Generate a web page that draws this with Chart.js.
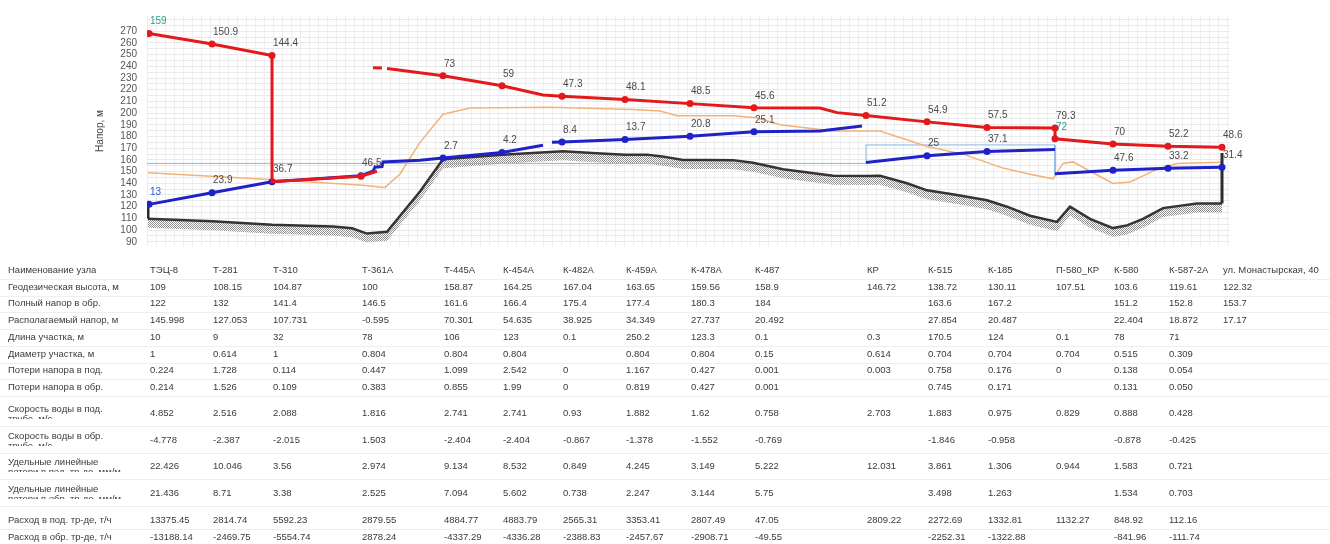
<!DOCTYPE html>
<html><head><meta charset="utf-8">
<script src="https://cdn.jsdelivr.net/npm/chart.js@4.4.1/dist/chart.umd.min.js"></script>
<style>
html,body{margin:0;padding:0;background:#fff;width:1330px;height:544px;overflow:hidden;font-family:"Liberation Sans",Arial,sans-serif;}
#wrap{position:relative;width:1330px;height:544px;overflow:hidden;}
#c{position:absolute;left:0;top:0;}
#tbl{position:absolute;left:0;top:0;width:1330px;height:544px;}
.row{position:absolute;left:0;width:1330px;border-bottom:1px solid #efefef;overflow:hidden;}
.cell{position:absolute;font-size:9.5px;color:#3a3a3a;white-space:pre;line-height:10px;overflow:hidden;}
</style></head>
<body><div id="wrap"><canvas id="c" width="1330" height="262" style="width:1330px;height:262px"></canvas><div id="tbl"></div></div>
<script>
// ---------- node positions along the profile and names ----------
const nodeNames = ['ТЭЦ-8','Т-281','Т-310','Т-361А','Т-445А','К-454А','К-482А','К-459А','К-478А','К-487','КР','К-515','К-185','П-580_КР','К-580','К-587-2А','ул. Монастырская, 40'];
const nodeX = [2,65,125,214,296,355,415,478,543,607,719,780,840,908,966,1021,1075];

// ---------- supply head line (red) ----------
const redLineX = [2,65,125,125,214,230,230,226,235,235,240,296,355,396,415,478,543,607,673,690,719,780,840,908,908,966,1021,1075];
const redLineY = [268,259.1,249.3,141.4,146.0,150.3,null,238.8,238.5,null,238.2,231.9,223.3,215.4,214.3,211.7,208.1,204.5,204.3,200.4,197.9,192.5,187.7,187.3,178,173.6,171.7,170.9];
const redMarkX = [2,65,125,214,296,355,415,478,543,607,719,780,840,908,908,966,1021,1075];
const redMarkY = [268,259.1,249.3,146.0,231.9,223.3,214.3,211.7,208.1,204.5,197.9,192.5,187.7,187.3,178,173.6,171.7,170.9];
const redMarkLabel = ['159','150.9','144.4','','73','59','47.3','48.1','48.5','45.6','51.2','54.9','57.5','79.3','72','70','52.2','48.6'];

// ---------- return head line (blue) ----------
const blueLineX = [2,65,125,214,226,228,235,236,273,296,355,396,396,405,415,478,543,607,673,715,715,719,780,840,908,908,908,966,1021,1075];
const blueLineY = [122,132,141.4,146.5,150.4,153.8,154.2,158.3,159.6,161.6,166.4,172.5,null,175,175.4,177.4,180.3,184,184.8,189,null,157.7,163.6,167.2,168.8,null,148.2,151.2,152.8,153.7];
const blueMarkX = [2,65,125,214,296,355,415,478,543,607,780,840,966,1021,1075];
const blueMarkY = [122,132,141.4,146.5,161.6,166.4,175.4,177.4,180.3,184,163.6,167.2,151.2,152.8,153.7];
const blueMarkLabel = ['13','23.9','36.7','46.5','2.7','4.2','8.4','13.7','20.8','25.1','25','37.1','47.6','33.2','31.4'];

// ---------- static head (thin blue) ----------
const staticX = [0,719,719,908,908];
const staticY = [157,157,172.8,172.8,146.5];

// ---------- thin orange line ----------
const orangeX = [1,100,213,238,253,273,296,323,403,486,513,530,586,610,633,686,733,780,816,856,883,906,916,926,946,966,983,996,1010,1030,1075];
const orangeY = [149,144.3,138.5,136.5,148,175,199,204.3,204.9,203,201.7,197.8,197.8,196,190,184.6,184.6,171.5,164.9,153,147.8,143.8,157,158.3,149,139.9,141.2,146.4,152,157,158];

// ---------- ground profile ----------
const groundX = [1,65,125,186,205,220,240,273,296,355,416,445,478,500,515,536,560,586,606,636,686,719,733,760,780,810,840,860,883,910,923,943,966,980,996,1016,1050,1075];
const groundY = [109.6,107.5,104.6,103,101.5,97,98.5,133,160.5,164.5,167.3,166,164.5,164.5,163,160,160,159.8,157.5,152,146.5,146.3,146.5,140,134,130,125.5,120,112.3,107,120,109.6,101.7,104,109.6,118.8,122.8,122.8];
const riserX = [1,1,1,1075,1075];
const riserY = [122,109.6,null,122.8,166];

// ---------- axis ----------
const yTickLabels = [90,100,110,120,130,140,150,160,170,180,190,200,210,220,230,240,250,260,270];
const yAxisTitle = 'Напор, м';

// ---------- table ----------
const rowLabels = ['Наименование узла','Геодезическая высота, м','Полный напор в обр.','Располагаемый напор, м','Длина участка, м','Диаметр участка, м','Потери напора в под.','Потери напора в обр.','Скорость воды в под.\nтрубе, м/с','Скорость воды в обр.\nтрубе, м/с','Удельные линейные\nпотери в под. тр-де, мм/м','Удельные линейные\nпотери в обр. тр-де, мм/м','Расход в под. тр-де, т/ч','Расход в обр. тр-де, т/ч'];
const geoHeight = ['109','108.15','104.87','100','158.87','164.25','167.04','163.65','159.56','158.9','146.72','138.72','130.11','107.51','103.6','119.61','122.32'];
const fullHeadReturn = ['122','132','141.4','146.5','161.6','166.4','175.4','177.4','180.3','184','','163.6','167.2','','151.2','152.8','153.7'];
const availHead = ['145.998','127.053','107.731','-0.595','70.301','54.635','38.925','34.349','27.737','20.492','','27.854','20.487','','22.404','18.872','17.17'];
const sectLength = ['10','9','32','78','106','123','0.1','250.2','123.3','0.1','0.3','170.5','124','0.1','78','71',''];
const sectDiam = ['1','0.614','1','0.804','0.804','0.804','','0.804','0.804','0.15','0.614','0.704','0.704','0.704','0.515','0.309',''];
const lossSupply = ['0.224','1.728','0.114','0.447','1.099','2.542','0','1.167','0.427','0.001','0.003','0.758','0.176','0','0.138','0.054',''];
const lossReturn = ['0.214','1.526','0.109','0.383','0.855','1.99','0','0.819','0.427','0.001','','0.745','0.171','','0.131','0.050',''];
const velSupply = ['4.852','2.516','2.088','1.816','2.741','2.741','0.93','1.882','1.62','0.758','2.703','1.883','0.975','0.829','0.888','0.428',''];
const velReturn = ['-4.778','-2.387','-2.015','1.503','-2.404','-2.404','-0.867','-1.378','-1.552','-0.769','','-1.846','-0.958','','-0.878','-0.425',''];
const specLossSupply = ['22.426','10.046','3.56','2.974','9.134','8.532','0.849','4.245','3.149','5.222','12.031','3.861','1.306','0.944','1.583','0.721',''];
const specLossReturn = ['21.436','8.71','3.38','2.525','7.094','5.602','0.738','2.247','3.144','5.75','','3.498','1.263','','1.534','0.703',''];
const flowSupply = ['13375.45','2814.74','5592.23','2879.55','4884.77','4883.79','2565.31','3353.41','2807.49','47.05','2809.22','2272.69','1332.81','1132.27','848.92','112.16',''];
const flowReturn = ['-13188.14','-2469.75','-5554.74','2878.24','-4337.29','-4336.28','-2388.83','-2457.67','-2908.71','-49.55','','-2252.31','-1322.88','','-841.96','-111.74',''];
const tableRows = [nodeNames,geoHeight,fullHeadReturn,availHead,sectLength,sectDiam,lossSupply,lossReturn,velSupply,velReturn,specLossSupply,specLossReturn,flowSupply,flowReturn];

// layout of table rows (center y, height)
const rowLayout = [[270,17],[287,17],[303,17],[320,17],[337,17],[354,17],[370,17],[387,17],[413,26],[440,26],[466,26],[493,26],[520,17],[537,17]];

const pts = (xs, ys) => xs.map((x, i) => ({x: x, y: ys[i]}));

const hatchPlugin = {
  id: 'hatch',
  beforeDatasetsDraw(chart) {
    const idx = chart.data.datasets.findIndex(d => d.hatch);
    if (idx < 0) return;
    const p = chart.getDatasetMeta(idx).data;
    const ctx = chart.ctx;
    const pc = document.createElement('canvas'); pc.width = 2; pc.height = 2;
    const g = pc.getContext('2d');
    g.fillStyle = '#ffffff'; g.fillRect(0, 0, 2, 2);
    g.fillStyle = '#8f8f8f'; g.fillRect(0, 0, 1, 1); g.fillRect(1, 1, 1, 1);
    ctx.save();
    ctx.beginPath();
    p.forEach((q, i) => { if (i === 0) ctx.moveTo(q.x, q.y); else ctx.lineTo(q.x, q.y); });
    for (let i = p.length - 1; i >= 0; i--) ctx.lineTo(p[i].x, p[i].y + 9);
    ctx.closePath();
    ctx.fillStyle = ctx.createPattern(pc, 'repeat');
    ctx.fill();
    ctx.restore();
  }
};

const labelPlugin = {
  id: 'ptlabels',
  afterDatasetsDraw(chart) {
    const ctx = chart.ctx;
    ctx.save();
    ctx.font = '10px "Liberation Sans", Arial, sans-serif';
    ctx.textAlign = 'left'; ctx.textBaseline = 'bottom';
    chart.data.datasets.forEach((ds, i) => {
      if (!ds.pointLabels) return;
      chart.getDatasetMeta(i).data.forEach((pt, j) => {
        const t = ds.pointLabels[j]; if (!t) return;
        ctx.fillStyle = (ds.labelColors && ds.labelColors[j]) || '#4a4a4a';
        ctx.fillText(t, pt.x + 1, pt.y - 7);
      });
    });
    ctx.restore();
  }
};

const redLabelColors = redMarkLabel.map((t, i) => (i === 0 || t === '72') ? '#2f9c86' : '#4a4a4a');
const blueLabelColors = blueMarkLabel.map((t, i) => i === 0 ? '#3457d5' : '#4a4a4a');

const chart = new Chart(document.getElementById('c'), {
  type: 'line',
  data: {
    datasets: [
      {data: pts(redMarkX, redMarkY), showLine: false, pointRadius: 3.5, pointBackgroundColor: '#e3191c', pointBorderColor: '#e3191c', pointBorderWidth: 0, order: 0, pointLabels: redMarkLabel, labelColors: redLabelColors},
      {data: pts(redLineX, redLineY), borderColor: '#e3191c', borderWidth: 3, pointRadius: 0, spanGaps: false, order: 1},
      {data: pts(blueMarkX, blueMarkY), showLine: false, pointRadius: 3.5, pointBackgroundColor: '#1f22c8', pointBorderColor: '#1f22c8', pointBorderWidth: 0, order: 2, pointLabels: blueMarkLabel, labelColors: blueLabelColors},
      {data: pts(blueLineX, blueLineY), borderColor: '#1f22c8', borderWidth: 3, pointRadius: 0, spanGaps: false, order: 3},
      {data: pts(riserX, riserY), borderColor: '#332b2b', borderWidth: 3, pointRadius: 0, spanGaps: false, order: 4},
      {data: pts(groundX, groundY), borderColor: '#3a3232', borderWidth: 2.5, pointRadius: 0, order: 5, hatch: true},
      {data: pts(orangeX, orangeY), borderColor: '#f3b27a', borderWidth: 1.5, pointRadius: 0, order: 6},
      {data: pts(staticX, staticY), borderColor: '#86b6e6', borderWidth: 1, pointRadius: 0, order: 7}
    ]
  },
  options: {
    responsive: false, animation: false, devicePixelRatio: 1,
    layout: {padding: {left: 94, right: 100, top: 7, bottom: 6}},
    plugins: {legend: {display: false}, tooltip: {enabled: false}},
    elements: {line: {tension: 0}},
    scales: {
      x: {
        type: 'linear', min: 0, max: 1083,
        afterBuildTicks: (axis) => { const t = []; for (let v = 0; v <= 1083; v += 9) t.push({value: v}); axis.ticks = t; },
        ticks: {display: false},
        grid: {color: '#efefef', drawTicks: false},
        border: {display: false},
        afterFit: (s) => { s.height = 0; }
      },
      y: {
        type: 'linear', min: 86.4, max: 283,
        afterBuildTicks: (axis) => { const t = []; for (let v = 90; v <= 280; v += 5) t.push({value: v}); axis.ticks = t; },
        ticks: {
          color: '#555', font: {size: 10, family: '"Liberation Sans", Arial'}, padding: 10, autoSkip: false,
          callback: (v) => yTickLabels.includes(v) ? String(v) : ''
        },
        grid: {color: '#e9e9e9', drawTicks: false},
        border: {display: false},
        title: {display: true, text: yAxisTitle, color: '#444', font: {size: 10, family: '"Liberation Sans", Arial'}, padding: 0},
        afterFit: (s) => { s.width = 53; }
      }
    }
  },
  plugins: [hatchPlugin, labelPlugin]
});

// ---------- build the table, columns aligned to the chart's node positions ----------
const tbl = document.getElementById('tbl');
const colLeft = nodeX.map(x => Math.round(chart.scales.x.getPixelForValue(x)) + 1);
tableRows.forEach((vals, r) => {
  const [cy, h] = rowLayout[r];
  const row = document.createElement('div');
  row.className = 'row';
  row.style.top = (cy - h / 2) + 'px';
  row.style.height = h + 'px';
  const lab = document.createElement('div');
  lab.className = 'cell';
  lab.textContent = rowLabels[r];
  lab.style.left = '8px';
  if (h > 20) { lab.style.top = '4px'; lab.style.height = '15px'; } else { lab.style.top = ((h - 10) / 2) + 'px'; }
  row.appendChild(lab);
  vals.forEach((v, i) => {
    if (v === '') return;
    const c = document.createElement('div');
    c.className = 'cell';
    c.textContent = v;
    c.style.left = colLeft[i] + 'px';
    c.style.top = ((h - 10) / 2) + 'px';
    row.appendChild(c);
  });
  tbl.appendChild(row);
});
</script>
</body></html>
